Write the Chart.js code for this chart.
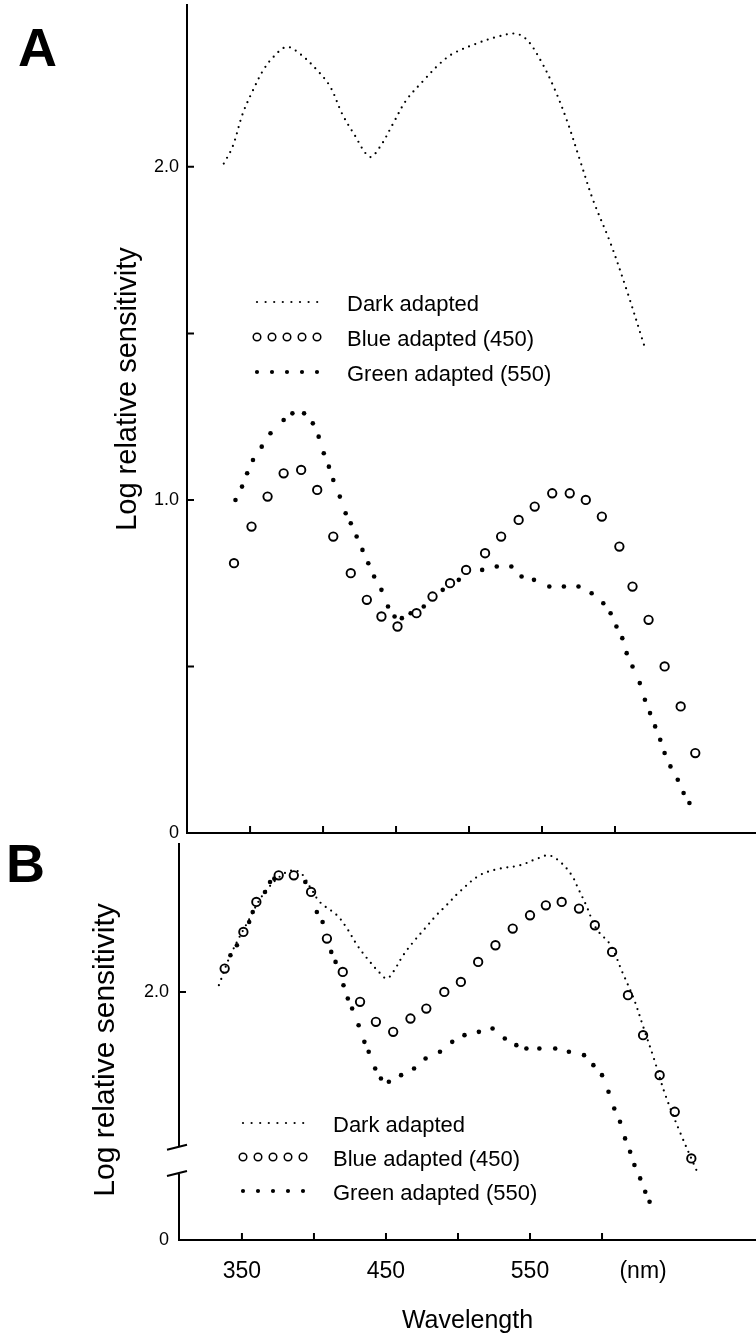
<!DOCTYPE html>
<html>
<head>
<meta charset="utf-8">
<title>Log relative sensitivity</title>
<script src="https://cdn.jsdelivr.net/npm/chart.js@4.4.0/dist/chart.umd.min.js"></script>
<style>
    html, body { margin: 0; padding: 0; background: #fff; }
    #wrap { position: relative; width: 756px; height: 1340px; overflow: hidden; }
    #chartA { position: absolute; left: 0; top: 0; }
    #chartB { position: absolute; left: 0; top: 840px; }
    .panel { position: absolute; font: bold 54px "Liberation Sans", Arial, sans-serif; line-height: 1; color: #000; }
</style>
</head>
<body>
<div id="wrap">
    <canvas id="chartA" width="756" height="840"></canvas>
    <canvas id="chartB" width="756" height="500"></canvas>
    <div class="panel" style="left:18px; top:20px;">A</div>
    <div class="panel" style="left:6px; top:836px;">B</div>
</div>
<script>
// Panel A values (wavelength nm / log relative sensitivity)
var nmDarkA = [332, 338, 345, 352, 359, 366, 375, 384, 396, 405, 413, 421, 432, 439, 448, 457, 469, 480, 489, 505, 519, 532, 540, 549, 558, 567, 576, 585, 597, 608, 621];
var logDarkA = [2.01, 2.06, 2.16, 2.23, 2.29, 2.33, 2.36, 2.34, 2.29, 2.24, 2.16, 2.10, 2.03, 2.06, 2.13, 2.20, 2.26, 2.31, 2.34, 2.37, 2.39, 2.40, 2.38, 2.32, 2.24, 2.14, 2.02, 1.90, 1.77, 1.63, 1.45];

var nmBlueA = [339, 351, 362, 373, 385, 396, 407, 419, 430, 440, 451, 464, 475, 487, 498, 511, 522, 534, 545, 557, 569, 580, 591, 603, 612, 623, 634, 645, 655];
var logBlueA = [0.81, 0.92, 1.01, 1.08, 1.09, 1.03, 0.89, 0.78, 0.70, 0.65, 0.62, 0.66, 0.71, 0.75, 0.79, 0.84, 0.89, 0.94, 0.98, 1.02, 1.02, 1.00, 0.95, 0.86, 0.74, 0.64, 0.50, 0.38, 0.24];

var nmGreenA = [340, 344.5, 348, 352, 358, 364, 373, 379, 387, 393, 397, 400.5, 404, 407, 411.5, 415.5, 419, 423, 427, 431, 435, 440, 444.5, 449, 454, 460, 469, 482, 493, 509, 519, 529, 536, 544.5, 555, 565, 575, 584, 592, 597, 601, 605, 608, 612, 617, 620.5, 624, 627.5, 631, 634, 638, 643, 647, 651];
var logGreenA = [1.00, 1.04, 1.08, 1.12, 1.16, 1.20, 1.24, 1.26, 1.26, 1.23, 1.19, 1.14, 1.10, 1.06, 1.01, 0.96, 0.93, 0.89, 0.85, 0.81, 0.77, 0.73, 0.68, 0.65, 0.645, 0.66, 0.68, 0.73, 0.76, 0.79, 0.80, 0.80, 0.77, 0.76, 0.74, 0.74, 0.74, 0.72, 0.69, 0.66, 0.62, 0.585, 0.54, 0.50, 0.45, 0.40, 0.36, 0.32, 0.28, 0.24, 0.20, 0.16, 0.12, 0.09];

// Panel B values
var nmDarkB = [334, 342, 354, 366, 381, 390, 398, 404, 416, 423, 430, 437, 445, 450.5, 455, 462, 469, 477, 485, 492, 501, 515, 529, 543, 555, 563, 571, 579, 583.5, 589, 596, 606, 614, 622, 629, 636, 644, 654, 666];
var logDarkB = [2.02, 2.11, 2.21, 2.30, 2.36, 2.36, 2.31, 2.27, 2.23, 2.19, 2.14, 2.10, 2.06, 2.04, 2.06, 2.11, 2.15, 2.19, 2.23, 2.26, 2.30, 2.35, 2.37, 2.38, 2.40, 2.41, 2.39, 2.35, 2.31, 2.26, 2.19, 2.14, 2.06, 1.98, 1.89, 1.80, 1.69, 1.58, 1.46];

var nmBlueB = [338, 351, 360, 375.5, 386, 398, 409, 420, 432, 443, 455, 467, 478, 490.5, 502, 514, 526, 538, 550, 561, 572, 584, 595, 607, 618, 628.5, 640, 650.5, 662];
var logBlueB = [2.07, 2.18, 2.27, 2.35, 2.35, 2.30, 2.16, 2.06, 1.97, 1.91, 1.88, 1.92, 1.95, 2.00, 2.03, 2.09, 2.14, 2.19, 2.23, 2.26, 2.27, 2.25, 2.20, 2.12, 1.99, 1.87, 1.75, 1.64, 1.50];

var nmGreenB = [342, 346.5, 355, 357.5, 366, 369.5, 372.5, 394, 402, 406, 412, 415, 420.5, 423.5, 426.5, 431, 435, 438, 442.5, 446.5, 452, 460.5, 469.5, 477.5, 487.5, 496, 504.5, 514.5, 524, 532.5, 540.5, 547.5, 556.5, 567.5, 577, 587.5, 594, 600, 604.5, 608.5, 612.5, 616, 619.5, 622.5, 626.5, 630, 633];
var logGreenB = [2.11, 2.14, 2.21, 2.24, 2.30, 2.33, 2.34, 2.33, 2.24, 2.21, 2.12, 2.09, 2.02, 1.98, 1.95, 1.90, 1.85, 1.82, 1.77, 1.74, 1.73, 1.75, 1.77, 1.80, 1.82, 1.85, 1.87, 1.88, 1.89, 1.86, 1.84, 1.83, 1.83, 1.83, 1.82, 1.81, 1.78, 1.75, 1.70, 1.65, 1.61, 1.56, 1.52, 1.48, 1.44, 1.40, 1.37];

var seriesNames = ["Dark adapted", "Blue adapted (450)", "Green adapted (550)"];
var yTitle = "Log relative sensitivity";

// Axes
var xTickMarks = [350, 400, 450, 500, 550, 600];
var xTickLabelsB = ["350", "450", "550", "(nm)"];
var xTickValuesB = [350, 450, 550, 628.5];
var yTickMarksA = [0.5, 1.0, 1.5, 2.0];
var yTickValuesA = [0, 1.0, 2.0];
var yTickLabelsA = ["0", "1.0", "2.0"];
var yMinB = 1.255;          // bottom of broken axis, labelled "0"
var yTickValuesB = [yMinB, 2.0];
var yTickLabelsB = ["0", "2.0"];
var yBreakB = [1.456, 1.535];

var FONT = "'Liberation Sans', Arial, sans-serif";
Chart.defaults.font.family = FONT;
Chart.defaults.color = "#000";

function pairs(xs, ys) {
    return xs.map(function (x, i) { return { x: x, y: ys[i] }; });
}

// keep the plot box exactly where the axes are asked to be
function noPad(s) {
    s.paddingLeft = 0;
    s.paddingRight = 0;
    s.paddingTop = 0;
    s.paddingBottom = 0;
}

function makeDatasets(nmD, logD, nmB, logB, nmG, logG) {
    return [{
        label: seriesNames[0],
        data: pairs(nmD, logD),
        showLine: true,
        borderColor: "#000",
        borderWidth: 2.2,
        borderDash: [0, 6.6],
        borderCapStyle: "round",
        tension: 0.35,
        pointRadius: 0
    }, {
        label: seriesNames[1],
        data: pairs(nmB, logB),
        pointRadius: 4.2,
        pointBorderWidth: 1.9,
        pointBorderColor: "#000",
        pointBackgroundColor: "#fff"
    }, {
        label: seriesNames[2],
        data: pairs(nmG, logG),
        pointRadius: 2.3,
        pointBorderWidth: 0,
        pointBackgroundColor: "#000"
    }];
}

// Short tick marks on the inside of the axes, and the y-axis break
var innerTicks = {
    id: "innerTicks",
    afterDraw: function (chart, args, opts) {
        var ctx = chart.ctx, area = chart.chartArea;
        var sx = chart.scales.x, sy = chart.scales.y;
        ctx.save();
        ctx.strokeStyle = "#000";
        ctx.lineWidth = 2;
        ctx.beginPath();
        opts.x.forEach(function (v) {
            var px = sx.getPixelForValue(v);
            ctx.moveTo(px, area.bottom);
            ctx.lineTo(px, area.bottom - 7);
        });
        opts.y.forEach(function (v) {
            var py = sy.getPixelForValue(v);
            ctx.moveTo(area.left, py);
            ctx.lineTo(area.left + 7, py);
        });
        if (opts.gap) {
            var hi = sy.getPixelForValue(opts.gap[1]);
            var lo = sy.getPixelForValue(opts.gap[0]);
            ctx.moveTo(area.left, area.top);
            ctx.lineTo(area.left, hi);
            ctx.moveTo(area.left, lo);
            ctx.lineTo(area.left, area.bottom);
            ctx.moveTo(area.left - 12, hi + 3);
            ctx.lineTo(area.left + 8, hi - 2);
            ctx.moveTo(area.left - 12, lo + 3);
            ctx.lineTo(area.left + 8, lo - 2);
        }
        ctx.stroke();
        ctx.restore();
    }
};

// Rotated y title placed beside the axis
var sideTitle = {
    id: "sideTitle",
    afterDraw: function (chart, args, opts) {
        var ctx = chart.ctx;
        ctx.save();
        ctx.translate(opts.x, opts.y);
        ctx.rotate(-Math.PI / 2);
        ctx.font = opts.size + "px " + FONT;
        ctx.fillStyle = "#000";
        ctx.textAlign = "center";
        ctx.textBaseline = "middle";
        ctx.fillText(opts.text, 0, 0);
        ctx.restore();
    }
};

// Key drawn inside the plot with the same marks as the series
var sampleKey = {
    id: "sampleKey",
    afterDraw: function (chart, args, opts) {
        var ctx = chart.ctx;
        ctx.save();
        ctx.fillStyle = "#000";
        ctx.strokeStyle = "#000";
        ctx.font = "22px " + FONT;
        ctx.textBaseline = "middle";
        chart.data.datasets.forEach(function (ds, i) {
            var y = opts.y + i * opts.rowGap;
            var k;
            if (ds.showLine) {
                for (k = 0; k < 8; k++) {
                    ctx.beginPath();
                    ctx.arc(opts.x + k * 8.6, y, 1.1, 0, Math.PI * 2);
                    ctx.fill();
                }
            } else {
                for (k = 0; k < 5; k++) {
                    ctx.beginPath();
                    ctx.arc(opts.x + k * 15, y, ds.pointRadius * 0.9, 0, Math.PI * 2);
                    ctx.fillStyle = ds.pointBackgroundColor;
                    ctx.fill();
                    if (ds.pointBorderWidth) {
                        ctx.lineWidth = ds.pointBorderWidth * 0.8;
                        ctx.stroke();
                    }
                }
            }
            ctx.fillStyle = "#000";
            ctx.fillText(ds.label, opts.textX, y + 3);
        });
        ctx.restore();
    }
};

// Panel A
var chartA = new Chart(document.getElementById("chartA"), {
    type: "scatter",
    data: { datasets: makeDatasets(nmDarkA, logDarkA, nmBlueA, logBlueA, nmGreenA, logGreenA) },
    plugins: [innerTicks, sampleKey, sideTitle],
    options: {
        responsive: false,
        animation: false,
        devicePixelRatio: 1,
        layout: { autoPadding: false, padding: { top: 5, right: 0, left: 0, bottom: 0 } },
        plugins: {
            legend: { display: false },
            tooltip: { enabled: false },
            innerTicks: { x: xTickMarks, y: yTickMarksA },
            sampleKey: { x: 257, y: 302, rowGap: 35, textX: 347 },
            sideTitle: { text: yTitle, x: 128, y: 389, size: 29 }
        },
        scales: {
            x: {
                type: "linear",
                min: 306.8,
                max: 696.6,
                grid: { display: false, drawTicks: false },
                border: { display: true, color: "#000", width: 2 },
                ticks: { display: false },
                afterFit: function (s) { noPad(s); s.height = 7; }
            },
            y: {
                min: 0,
                max: 2.486,
                grid: { display: false, drawTicks: false },
                border: { display: true, color: "#000", width: 2 },
                afterBuildTicks: function (s) {
                    s.ticks = yTickValuesA.map(function (v) { return { value: v }; });
                },
                ticks: {
                    padding: 8,
                    font: { size: 18 },
                    callback: function (v) { return yTickLabelsA[yTickValuesA.indexOf(v)]; }
                },
                afterFit: function (s) { noPad(s); s.width = 187; }
            }
        }
    }
});

// Panel B
var chartB = new Chart(document.getElementById("chartB"), {
    type: "scatter",
    data: { datasets: makeDatasets(nmDarkB, logDarkB, nmBlueB, logBlueB, nmGreenB, logGreenB) },
    plugins: [innerTicks, sampleKey, sideTitle],
    options: {
        responsive: false,
        animation: false,
        devicePixelRatio: 1,
        layout: { autoPadding: false, padding: { top: 3, right: 0, left: 0, bottom: 0 } },
        plugins: {
            legend: { display: false },
            tooltip: { enabled: false },
            innerTicks: { x: xTickMarks, y: [2.0], gap: yBreakB },
            sampleKey: { x: 243, y: 283, rowGap: 34, textX: 333 },
            sideTitle: { text: yTitle, x: 106, y: 210, size: 30 }
        },
        scales: {
            x: {
                type: "linear",
                min: 306.3,
                max: 706.9,
                grid: { display: false, drawTicks: false },
                border: { display: true, color: "#000", width: 2 },
                afterBuildTicks: function (s) {
                    s.ticks = xTickValuesB.map(function (v) { return { value: v }; });
                },
                ticks: {
                    padding: 18,
                    maxRotation: 0,
                    autoSkip: false,
                    font: { size: 23 },
                    callback: function (v) { return xTickLabelsB[xTickValuesB.indexOf(v)]; }
                },
                title: {
                    display: true,
                    text: "Wavelength",
                    font: { size: 25 },
                    padding: { top: 0, bottom: 4 }
                },
                afterFit: function (s) { noPad(s); s.height = 100; }
            },
            y: {
                min: yMinB,
                max: 2.447,
                grid: { display: false, drawTicks: false },
                border: { display: false },
                afterBuildTicks: function (s) {
                    s.ticks = yTickValuesB.map(function (v) { return { value: v }; });
                },
                ticks: {
                    padding: 10,
                    font: { size: 18 },
                    callback: function (v) { return yTickLabelsB[yTickValuesB.indexOf(v)]; }
                },
                afterFit: function (s) { noPad(s); s.width = 179; }
            }
        }
    }
});
</script>
</body>
</html>
